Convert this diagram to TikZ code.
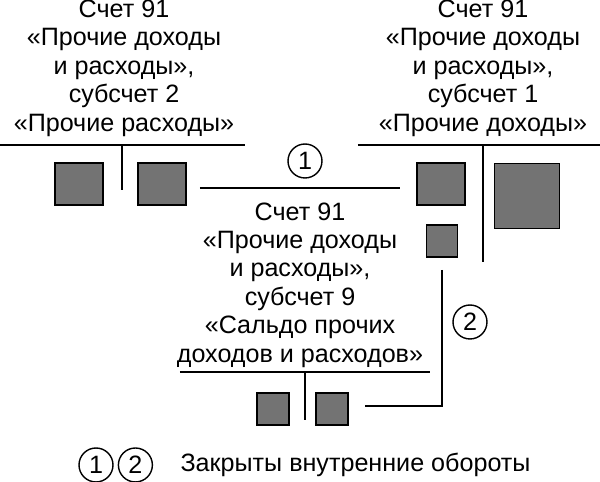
\documentclass[tikz,border=0pt]{standalone}
\usepackage{fontspec}
\setmainfont{Liberation Sans}
\usetikzlibrary{positioning}
\tikzset{
    sq/.style={rectangle, draw=black, thick, fill=black!55, inner sep=0pt},
    ttl/.style={align=center, font=\fontsize{14.3}{16.2}\selectfont},
    num/.style={circle, draw=black, thick, minimum size=0.68cm, inner sep=0pt, font=\fontsize{14.3}{16}\selectfont},
}
\begin{document}
\begin{tikzpicture}[x=0.02cm,y=-0.02cm,thick]
 \useasboundingbox (0,0) rectangle (600,482);

 % left account, subaccount 2
 \node[ttl] (TitleA) at (124,68) {Счет 91\\«Прочие доходы\\и расходы»,\\субсчет 2\\«Прочие расходы»};
 \draw (0,145) -- (245,145);
 \draw (122,145) -- (122,190);
 \node[sq, minimum width=0.96cm, minimum height=0.84cm] (A1) at (79,184) {};
 \node[sq, minimum width=0.96cm, minimum height=0.84cm] (A2) at (162,184) {};

 % right account, subaccount 1
 \node[ttl] (TitleB) at (483,68) {Счет 91\\«Прочие доходы\\и расходы»,\\субсчет 1\\«Прочие доходы»};
 \draw (358,145) -- (600,145);
 \draw (483,145) -- (483,262);
 \node[sq, minimum width=0.96cm, minimum height=0.84cm] (B1) at (441,184) {};
 \node[sq, minimum width=1.3cm, minimum height=1.3cm] (B2) at (527,196) {};
 \node[sq, minimum width=0.62cm, minimum height=0.64cm] (B3) at (442,241) {};

 % turnover 1
 \coordinate (L1a) at (200,188);
 \coordinate (L1b) at (400,188);
 \draw (L1a) -- (L1b);
 \node[num] (N1) at (305,161) {1};

 % middle account, subaccount 9
 \node[ttl] (TitleC) at (300,285) {Счет 91\\«Прочие доходы\\и расходы»,\\субсчет 9\\«Сальдо прочих\\доходов и расходов»};
 \draw (180,372) -- (430,372);
 \draw (305,372) -- (305,420);
 \node[sq, minimum width=0.64cm, minimum height=0.64cm] (C1) at (273,409) {};
 \node[sq, minimum width=0.64cm, minimum height=0.64cm] (C2) at (332,409) {};

 % turnover 2
 \coordinate (L2) at (365,406);
 \draw (442,270) |- (L2);
 \node[num] (N2) at (470,322) {2};

 % legend
 \node[num] (K1) at (96,465) {1};
 \node[num, right=0.08cm of K1] (K2) {2};
 \node[ttl, anchor=west] (Legend) at (174,465) {Закрыты внутренние обороты};
\end{tikzpicture}
\end{document}
